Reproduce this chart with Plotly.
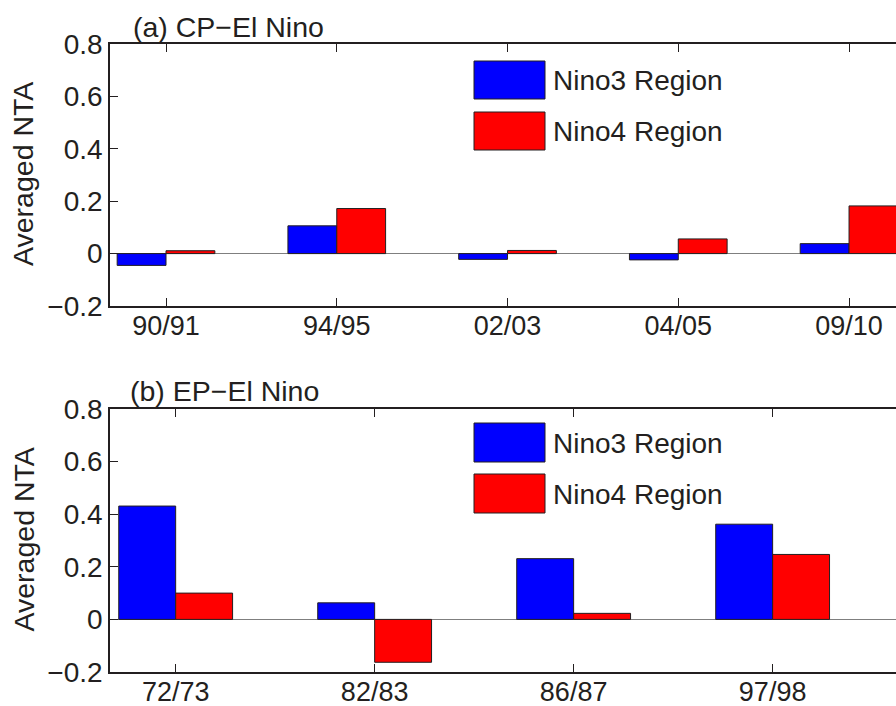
import plotly.graph_objects as go

# ---- data ----
cp_events = ["90/91", "94/95", "02/03", "04/05", "09/10"]
cp_nino3 = [-0.045, 0.106, -0.022, -0.024, 0.038]
cp_nino4 = [0.011, 0.172, 0.012, 0.056, 0.182]

ep_events = ["72/73", "82/83", "86/87", "97/98"]
ep_nino3 = [0.431, 0.063, 0.231, 0.362]
ep_nino4 = [0.100, -0.163, 0.023, 0.247]

series_names = ["Nino3 Region", "Nino4 Region"]
panel_titles = ["(a) CP\u2212El Nino", "(b) EP\u2212El Nino"]
y_label = "Averaged NTA"

# ---- style ----
W, H = 896, 706
BLUE = "#0000ff"
RED = "#ff0000"
INK = "#231f20"
FONT = "Liberation Sans, Arial, sans-serif"


def px_x(p):
    return p / W


def px_y(p):
    return 1 - p / H


fig = go.Figure()

panels = [
    dict(ev=cp_events, n3=cp_nino3, n4=cp_nino4, xa="x", ya="y",
         top=44, bottom=306, xr=[-0.328, 4.275]),
    dict(ev=ep_events, n3=ep_nino3, n4=ep_nino4, xa="x2", ya="y2",
         top=409, bottom=672, xr=[-0.33, 3.62]),
]

for p in panels:
    for vals, col, name in [(p["n3"], BLUE, series_names[0]), (p["n4"], RED, series_names[1])]:
        fig.add_trace(go.Bar(
            x=p["ev"], y=vals, name=name, xaxis=p["xa"], yaxis=p["ya"],
            marker=dict(color=col, line=dict(color=INK, width=1)),
            showlegend=False,
        ))

axis_common = dict(
    showline=True, linecolor=INK, linewidth=1.5,
    ticks="inside", tickcolor=INK, ticklen=8, tickwidth=1,
    showgrid=False, automargin=False,
)

layout = dict(
    width=W, height=H,
    margin=dict(l=0, r=0, t=0, b=0),
    paper_bgcolor="white", plot_bgcolor="white",
    barmode="group", bargap=0.428, bargroupgap=0,
    showlegend=False,
    font=dict(family=FONT, color=INK),
)

x0 = px_x(110)
for i, p in enumerate(panels):
    sfx = "" if i == 0 else "2"
    layout["xaxis" + sfx] = dict(
        axis_common, domain=[x0, 1], anchor="y" + sfx, range=p["xr"],
        type="category", mirror="ticks", zeroline=False,
        tickfont=dict(family=FONT, size=27, color=INK),
        ticklabelstandoff=-5,
    )
    layout["yaxis" + sfx] = dict(
        axis_common, domain=[px_y(p["bottom"]), px_y(p["top"])], anchor="x" + sfx,
        range=[-0.2, 0.8], dtick=0.2, tick0=0,
        tickfont=dict(family=FONT, size=28, color=INK),
        zeroline=True, zerolinecolor="#7f7f7f", zerolinewidth=1,
    )

fig.update_layout(**layout)

annotations = []
shapes = []

# panel titles
title_pos = [(131, 27), (128, 391)]
for t, (tx, ty) in zip(panel_titles, title_pos):
    annotations.append(dict(
        text=t, x=px_x(tx), y=px_y(ty), xref="paper", yref="paper",
        xanchor="left", yanchor="middle", showarrow=False,
        font=dict(family=FONT, size=28.5, color=INK),
    ))

# y-axis titles
for p in panels:
    annotations.append(dict(
        text=y_label, x=px_x(23), y=px_y((p["top"] + p["bottom"]) / 2 - 1),
        xref="paper", yref="paper", textangle=-90,
        xanchor="center", yanchor="middle", showarrow=False,
        font=dict(family=FONT, size=28.5, color=INK),
    ))

# manual legends (large swatches like the original)
legend_rows = [
    [(61, 99, BLUE), (112, 150, RED)],
    [(423, 462, BLUE), (474, 513, RED)],
]
for rows in legend_rows:
    for (ya, yb, col), name in zip(rows, series_names):
        shapes.append(dict(
            type="rect", xref="paper", yref="paper",
            x0=px_x(474), x1=px_x(545), y0=px_y(yb), y1=px_y(ya),
            fillcolor=col, line=dict(color=INK, width=1),
        ))
        annotations.append(dict(
            text=name, x=px_x(551), y=px_y((ya + yb) / 2 + 1),
            xref="paper", yref="paper", xanchor="left", yanchor="middle",
            showarrow=False, font=dict(family=FONT, size=28, color=INK),
        ))

fig.update_layout(annotations=annotations, shapes=shapes)

fig.write_html(
    "out.html",
    config={"displayModeBar": False},
    post_script="document.body.style.margin='0px';"
                "document.documentElement.style.overflow='hidden';"
                "document.body.style.overflow='hidden';",
)
